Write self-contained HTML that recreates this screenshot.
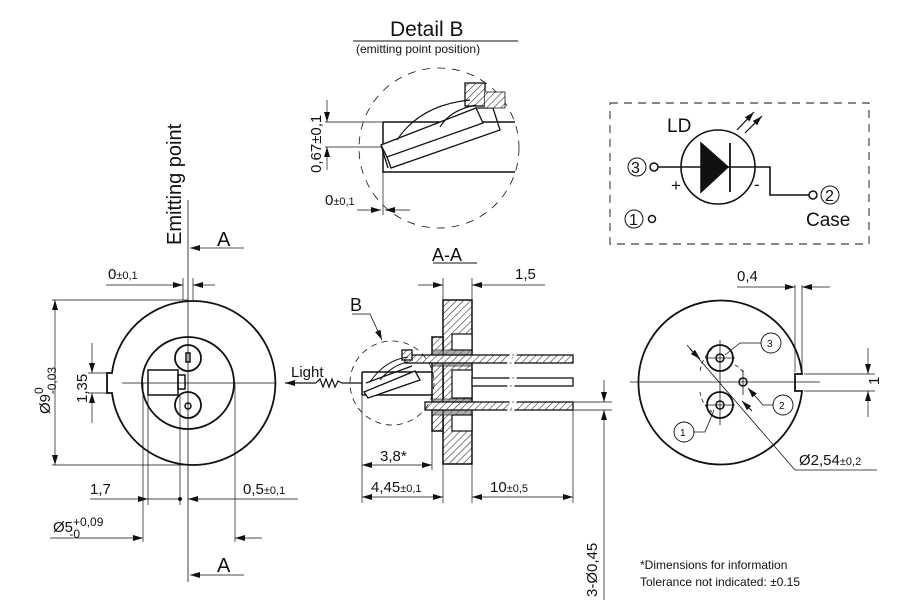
<!DOCTYPE html>
<html><head><meta charset="utf-8"><style>
html,body{margin:0;padding:0;background:#fff}
svg{display:block}
text{font-family:"Liberation Sans",Arial,sans-serif;fill:#111}
</style></head><body>
<svg width="907" height="610" viewBox="0 0 907 610" xmlns="http://www.w3.org/2000/svg">
<defs>
<pattern id="h" width="5" height="5" patternUnits="userSpaceOnUse" patternTransform="rotate(45)">
<rect width="5" height="5" fill="#fff"/><line x1="0" y1="0" x2="0" y2="5" stroke="#333" stroke-width="1.2"/></pattern>
<marker id="a" viewBox="0 0 10 6" refX="10" refY="3" markerWidth="10" markerHeight="6" orient="auto-start-reverse" markerUnits="userSpaceOnUse"><path d="M0,0L10,3L0,6z" fill="#111"/></marker>
</defs>
<g stroke="#111" fill="none" stroke-width="1">

<!-- LEFT VIEW -->
<path d="M112,373 A82,82 0 1 1 112,393 L107,393 L107,373 Z" stroke-width="1.8"/>
<circle cx="188" cy="383" r="46" stroke-width="1.8"/>
<circle cx="188" cy="358" r="13" stroke-width="1.8"/>
<circle cx="188" cy="405" r="13" stroke-width="1.8"/>
<rect x="186" y="353" width="4" height="9" stroke-width="1.5"/>
<circle cx="188" cy="406" r="3" stroke-width="1.5"/>
<rect x="148" y="370" width="30" height="25" stroke-width="1.5"/>
<rect x="178" y="375" width="7" height="14" stroke-width="1.5"/>
<line x1="188" y1="200" x2="188" y2="582" stroke-width="0.8"/>
<line x1="122" y1="383" x2="276" y2="383" stroke-width="0.8"/>
<line x1="52" y1="300" x2="188" y2="300" stroke-width="0.7"/>
<line x1="52" y1="465" x2="188" y2="465" stroke-width="0.7"/>
<line x1="55" y1="300" x2="55" y2="465" stroke-width="0.7" marker-start="url(#a)" marker-end="url(#a)"/>
<line x1="88" y1="373" x2="112" y2="373" stroke-width="0.7"/>
<line x1="88" y1="393" x2="112" y2="393" stroke-width="0.7"/>
<line x1="92" y1="343" x2="92" y2="373" stroke-width="0.7" marker-end="url(#a)"/>
<line x1="92" y1="423" x2="92" y2="393" stroke-width="0.7" marker-end="url(#a)"/>
<line x1="106" y1="285" x2="183" y2="285" stroke-width="0.7" marker-end="url(#a)"/>
<line x1="215" y1="285" x2="193" y2="285" stroke-width="0.7" marker-end="url(#a)"/>
<line x1="193" y1="278" x2="193" y2="300" stroke-width="0.7"/>
<line x1="183" y1="278" x2="183" y2="300" stroke-width="0.7"/>
<line x1="148" y1="395" x2="148" y2="505" stroke-width="0.7"/>
<line x1="180" y1="395" x2="180" y2="505" stroke-width="0.7"/>
<line x1="143" y1="383" x2="143" y2="542" stroke-width="0.7"/>
<line x1="235" y1="383" x2="235" y2="542" stroke-width="0.7"/>
<line x1="90" y1="499" x2="148" y2="499" stroke-width="0.7" marker-end="url(#a)"/>
<line x1="148" y1="499" x2="180" y2="499" stroke-width="0.7"/>
<circle cx="180" cy="499" r="1.5" fill="#111"/>
<line x1="298" y1="499" x2="188" y2="499" stroke-width="0.7" marker-end="url(#a)"/>
<line x1="50" y1="538" x2="143" y2="538" stroke-width="0.7" marker-end="url(#a)"/>
<line x1="262" y1="538" x2="235" y2="538" stroke-width="0.7" marker-end="url(#a)"/>
<line x1="244" y1="248" x2="190" y2="248" stroke-width="0.8" marker-end="url(#a)"/>
<line x1="244" y1="575" x2="190" y2="575" stroke-width="0.8" marker-end="url(#a)"/>

<!-- SECTION A-A -->
<rect x="443" y="300" width="29" height="164" fill="url(#h)" stroke-width="1.5"/>
<rect x="432" y="337" width="11" height="94" fill="url(#h)" stroke-width="1.5"/>
<rect x="452" y="334" width="20" height="16" fill="#fff" stroke-width="1.2"/>
<rect x="452" y="415" width="20" height="16" fill="#fff" stroke-width="1.2"/>
<rect x="452" y="370" width="20" height="28" fill="#fff" stroke-width="1.2"/>
<rect x="432" y="350" width="40" height="16" fill="#777" stroke-width="1" opacity="0.6"/>
<rect x="432" y="399" width="40" height="16" fill="#777" stroke-width="1" opacity="0.6"/>
<rect x="405" y="355" width="168" height="8" fill="url(#h)" stroke-width="1.3"/>
<rect x="472" y="378" width="101" height="8" fill="#fff" stroke-width="1.3"/>
<rect x="425" y="402" width="148" height="8" fill="url(#h)" stroke-width="1.3"/>
<path d="M512,352 l-4,14 M516,352 l-4,14 M512,375 l-4,14 M516,375 l-4,14 M512,399 l-4,14 M516,399 l-4,14" stroke="#fff" stroke-width="3"/>
<path d="M362,372 L432,372 M362,395 L432,395 M362,372 L362,395" stroke-width="1.5"/>
<path d="M364,392 L415,371 L420,380 L368,398 Z M366,383 L412,366" stroke-width="1.3" fill="#fff"/>
<rect x="402" y="350" width="10" height="10" fill="url(#h)" stroke-width="1.3"/>
<path d="M370,382 Q385,360 408,357 M380,380 Q392,365 408,362" stroke-width="1"/>
<circle cx="392" cy="383" r="42" stroke-dasharray="6,5" stroke-width="0.8"/>
<path d="M316,383 l4,-4 l3,8 l3,-8 l3,8 l3,-8 l3,8 l3,-6 l4,2 L362,383" stroke-width="1.2"/>
<line x1="316" y1="383" x2="285" y2="383" stroke-width="1.2" marker-end="url(#a)"/>
<path d="M352,314 L370,314 L382,340" stroke-width="0.8" marker-end="url(#a)"/>
<line x1="443" y1="278" x2="443" y2="300" stroke-width="0.7"/>
<line x1="472" y1="278" x2="472" y2="300" stroke-width="0.7"/>
<line x1="418" y1="285" x2="443" y2="285" stroke-width="0.7" marker-end="url(#a)"/>
<line x1="545" y1="285" x2="472" y2="285" stroke-width="0.7" marker-end="url(#a)"/>
<line x1="362" y1="395" x2="362" y2="503" stroke-width="0.7"/>
<line x1="432" y1="431" x2="432" y2="470" stroke-width="0.7"/>
<line x1="443" y1="464" x2="443" y2="503" stroke-width="0.7"/>
<line x1="472" y1="464" x2="472" y2="503" stroke-width="0.7"/>
<line x1="573" y1="410" x2="573" y2="503" stroke-width="0.7"/>
<line x1="362" y1="465" x2="432" y2="465" stroke-width="0.7" marker-start="url(#a)" marker-end="url(#a)"/>
<line x1="362" y1="497" x2="443" y2="497" stroke-width="0.7" marker-start="url(#a)" marker-end="url(#a)"/>
<line x1="472" y1="497" x2="573" y2="497" stroke-width="0.7" marker-start="url(#a)" marker-end="url(#a)"/>
<line x1="573" y1="402" x2="612" y2="402" stroke-width="0.7"/>
<line x1="573" y1="410" x2="612" y2="410" stroke-width="0.7"/>
<line x1="604" y1="380" x2="604" y2="402" stroke-width="0.7" marker-end="url(#a)"/>
<line x1="604" y1="430" x2="604" y2="410" stroke-width="0.7" marker-end="url(#a)"/>
<line x1="604" y1="430" x2="604" y2="600" stroke-width="0.7"/>
<line x1="433" y1="263" x2="477" y2="263" stroke-width="1"/>

<!-- DETAIL B -->
<line x1="353" y1="41" x2="518" y2="41" stroke-width="1"/>
<circle cx="439" cy="148" r="80" stroke-dasharray="8,7" stroke-width="0.8"/>
<path d="M383,122 L515,122 M383,122 L383,172 L515,172" stroke-width="1.5"/>
<path d="M381,145 L476,108 L483,123 L387,157 Z" stroke-width="1.3" fill="#fff"/>
<path d="M388,168 L381,145 M387,157 L391,168 L500,130 L493,108 L476,108" stroke-width="1.3"/>
<rect x="465" y="83" width="20" height="23" fill="url(#h)" stroke-width="1.3"/>
<path d="M485,92 L505,92 L505,108 L485,108" fill="url(#h)" stroke-width="0.8"/>
<path d="M397,140 Q420,105 470,100 M440,127 Q450,110 476,105" stroke-width="1.2"/>
<line x1="325" y1="122" x2="383" y2="122" stroke-width="0.7"/>
<line x1="325" y1="147" x2="381" y2="147" stroke-width="0.7"/>
<line x1="327" y1="100" x2="327" y2="122" stroke-width="0.7" marker-end="url(#a)"/>
<line x1="327" y1="170" x2="327" y2="147" stroke-width="0.7" marker-end="url(#a)"/>
<line x1="383" y1="172" x2="383" y2="215" stroke-width="0.7"/>
<line x1="357" y1="210" x2="381" y2="210" stroke-width="0.7" marker-end="url(#a)"/>
<line x1="410" y1="210" x2="385" y2="210" stroke-width="0.7" marker-end="url(#a)"/>

<!-- LD SCHEMATIC -->
<rect x="610" y="103" width="259" height="141" stroke-dasharray="8,6" stroke-width="0.9"/>
<circle cx="718" cy="167" r="37" stroke-width="1.6"/>
<path d="M701,143 L728,167 L701,192 Z" fill="#111" stroke-width="1.5"/>
<line x1="730" y1="143" x2="730" y2="192" stroke-width="1.8"/>
<path d="M658,167 L770,167 L770,195 L809,195" stroke-width="1.6"/>
<circle cx="654" cy="167" r="4" stroke-width="1.5"/>
<circle cx="813" cy="195" r="4" stroke-width="1.5"/>
<circle cx="652" cy="219" r="3.5" stroke-width="1.5"/>
<line x1="737" y1="130" x2="754" y2="112" stroke-width="1.2" marker-end="url(#a)"/>
<line x1="745" y1="133" x2="762" y2="116" stroke-width="1.2" marker-end="url(#a)"/>
<circle cx="637" cy="167" r="9" stroke-width="1"/>
<circle cx="830" cy="195" r="9" stroke-width="1"/>
<circle cx="634" cy="219" r="9" stroke-width="1"/>

<!-- RIGHT VIEW -->
<path d="M802,374 A82,82 0 1 0 802,391 L795,391 L795,374 Z" stroke-width="1.8"/>
<circle cx="720" cy="358" r="13" stroke-width="1.8"/>
<circle cx="720" cy="405" r="13" stroke-width="1.8"/>
<circle cx="720" cy="358" r="4" stroke-width="1.5"/>
<circle cx="720" cy="405" r="4" stroke-width="1.5"/>
<circle cx="743" cy="382" r="4" stroke-width="1.5"/>
<path d="M712,349 A35,35 0 0 0 700,373 M700,392 A30,30 0 0 0 712,412 M735,365 A25,25 0 0 1 745,375" stroke-dasharray="4,3" stroke-width="0.8"/>
<line x1="630" y1="382" x2="820" y2="382" stroke-width="0.8"/>
<line x1="720" y1="340" x2="720" y2="425" stroke-width="0.8"/>
<line x1="705" y1="358" x2="735" y2="358" stroke-width="0.8"/>
<line x1="705" y1="405" x2="735" y2="405" stroke-width="0.8"/>
<line x1="743" y1="370" x2="743" y2="395" stroke-width="0.8"/>
<line x1="687" y1="345" x2="795" y2="470" stroke-width="0.8"/>
<line x1="795" y1="470" x2="877" y2="470" stroke-width="0.8"/>
<line x1="690" y1="349" x2="700" y2="359" stroke-width="1" marker-end="url(#a)"/>
<line x1="752" y1="411" x2="742" y2="401" stroke-width="1" marker-end="url(#a)"/>
<path d="M761,343 L740,343 L725,355" stroke-width="0.8"/>
<path d="M773,405 L763,405 L748,388" stroke-width="0.8" marker-end="url(#a)"/>
<path d="M694,432 L705,432 L714,410" stroke-width="0.8"/>
<circle cx="771" cy="343" r="10" stroke-width="0.9"/>
<circle cx="783" cy="405" r="10" stroke-width="0.9"/>
<circle cx="684" cy="432" r="10" stroke-width="0.9"/>
<line x1="795" y1="285" x2="795" y2="372" stroke-width="0.7"/>
<line x1="802" y1="285" x2="802" y2="372" stroke-width="0.7"/>
<line x1="737" y1="287" x2="795" y2="287" stroke-width="0.7" marker-end="url(#a)"/>
<line x1="830" y1="287" x2="802" y2="287" stroke-width="0.7" marker-end="url(#a)"/>
<line x1="804" y1="374" x2="875" y2="374" stroke-width="0.7"/>
<line x1="804" y1="391" x2="875" y2="391" stroke-width="0.7"/>
<line x1="868" y1="348" x2="868" y2="374" stroke-width="0.7" marker-end="url(#a)"/>
<line x1="868" y1="417" x2="868" y2="391" stroke-width="0.7" marker-end="url(#a)"/>
</g>

<!-- TEXT -->
<text x="181" y="245" font-size="20" transform="rotate(-90 181 245)">Emitting point</text>
<text x="217" y="246" font-size="20">A</text>
<text x="217" y="572" font-size="20">A</text>
<text x="108" y="279" font-size="15">0<tspan font-size="11">±0,1</tspan></text>
<text x="50" y="414" font-size="15" transform="rotate(-90 50 414)">Ø9<tspan font-size="12" dy="-7">0</tspan><tspan font-size="12" dx="-7" dy="13">-0,03</tspan></text>
<text x="87" y="403" font-size="15" transform="rotate(-90 87 403)">1,35</text>
<text x="90" y="494" font-size="15">1,7</text>
<text x="243" y="494" font-size="15">0,5<tspan font-size="11">±0,1</tspan></text>
<text x="53" y="532" font-size="15">Ø5<tspan font-size="12" dy="-6">+0,09</tspan><tspan font-size="12" dx="-34" dy="12">-0</tspan></text>
<text x="432" y="261" font-size="18">A-A</text>
<text x="515" y="279" font-size="15">1,5</text>
<text x="350" y="311" font-size="18">B</text>
<text x="291" y="377" font-size="15">Light</text>
<text x="380" y="461" font-size="15">3,8*</text>
<text x="371" y="492" font-size="15">4,45<tspan font-size="11">±0,1</tspan></text>
<text x="490" y="492" font-size="15">10<tspan font-size="11">±0,5</tspan></text>
<text x="597" y="597" font-size="15" transform="rotate(-90 597 597)">3-Ø0,45</text>
<text x="390" y="36" font-size="21">Detail B</text>
<text x="356" y="53" font-size="12">(emitting point position)</text>
<text x="321" y="173" font-size="15" transform="rotate(-90 321 173)">0,67±0,1</text>
<text x="325" y="205" font-size="15">0<tspan font-size="11">±0,1</tspan></text>
<text x="667" y="132" font-size="19">LD</text>
<text x="631" y="173" font-size="16">3</text>
<text x="671" y="191" font-size="17">+</text>
<text x="754" y="190" font-size="17">-</text>
<text x="825" y="201" font-size="16">2</text>
<text x="806" y="226" font-size="19">Case</text>
<text x="629" y="225" font-size="16">1</text>
<text x="767" y="347" font-size="10">3</text>
<text x="779" y="409" font-size="10">2</text>
<text x="680" y="436" font-size="10">1</text>
<text x="737" y="281" font-size="15">0,4</text>
<text x="879" y="385" font-size="15" transform="rotate(-90 879 385)">1</text>
<text x="799" y="465" font-size="15">Ø2,54<tspan font-size="11">±0,2</tspan></text>
<text x="640" y="569" font-size="12">*Dimensions for information</text>
<text x="640" y="586" font-size="12">Tolerance not indicated: ±0.15</text>
</svg>
</body></html>
